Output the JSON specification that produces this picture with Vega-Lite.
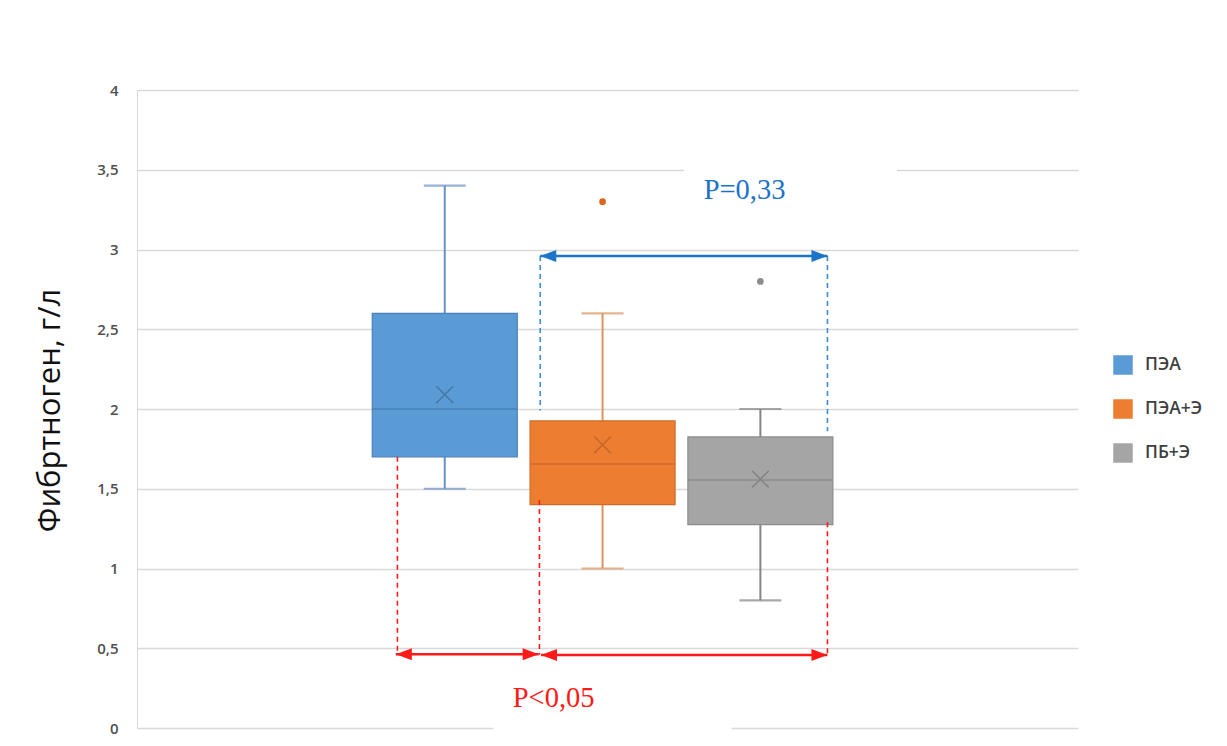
{
  "$schema": "https://vega.github.io/schema/vega-lite/v6.json",
  "width": 941,
  "height": 638,
  "autosize": {"type": "none"},
  "padding": {"left": 137, "top": 90, "right": 149, "bottom": 18},
  "background": "white",
  "config": {
    "view": {"stroke": null},
    "font": "Open Sans",
    "axisY": {
      "grid": true,
      "gridColor": "#D9D9D9",
      "gridWidth": 1.5,
      "domain": true,
      "domainColor": "#D9D9D9",
      "domainWidth": 1,
      "ticks": false,
      "labelPadding": 19,
      "labelFont": "Open Sans",
      "labelFontSize": 15,
      "labelFontWeight": 600,
      "labelColor": "#505050",
      "labelExpr": "replace(format(datum.value, '~g'), '.', ',')",
      "titleFont": "Open Sans",
      "titleFontSize": 31,
      "titleFontWeight": "normal",
      "titleColor": "#111111",
      "titleAngle": 270,
      "titleX": -87,
      "titleY": 320,
      "titleAlign": "center",
      "titleBaseline": "middle"
    }
  },
  "datasets": {
    "boxes": [
      {"group": "ПЭА", "pos": 1, "lo": 1.5, "q1": 1.7, "median": 2.0, "q3": 2.6, "hi": 3.4, "mean": 2.09},
      {"group": "ПЭА+Э", "pos": 2, "lo": 1.0, "q1": 1.4, "median": 1.655, "q3": 1.925, "hi": 2.6, "mean": 1.775},
      {"group": "ПБ+Э", "pos": 3, "lo": 0.8, "q1": 1.275, "median": 1.555, "q3": 1.825, "hi": 2.0, "mean": 1.56}
    ],
    "outliers": [
      {"group": "ПЭА+Э", "pos": 2, "value": 3.3},
      {"group": "ПБ+Э", "pos": 3, "value": 2.8}
    ],
    "dashes": [
      {"kind": "red", "x": 0.70, "y": 1.70, "y2": 0.46},
      {"kind": "red", "x": 1.60, "y": 1.43, "y2": 0.46},
      {"kind": "red", "x": 3.425, "y": 1.29, "y2": 0.46},
      {"kind": "blue", "x": 1.605, "y": 2.96, "y2": 1.99},
      {"kind": "blue", "x": 3.425, "y": 2.96, "y2": 1.86}
    ],
    "arrows": [
      {"kind": "red", "x": 0.69, "x2": 1.595, "y": 0.462},
      {"kind": "red", "x": 1.61, "x2": 3.425, "y": 0.458},
      {"kind": "blue", "x": 1.605, "x2": 3.425, "y": 2.96}
    ],
    "labels": [
      {"kind": "blue", "x": 2.9, "y": 3.37, "text": "P=0,33"},
      {"kind": "red", "x": 1.69, "y": 0.19, "text": "P<0,05"}
    ],
    "masks": [
      {"x": 2.517, "x2": 3.865, "y": 3.1, "y2": 3.65},
      {"x": 1.307, "x2": 2.818, "y": -0.08, "y2": 0.35}
    ]
  },
  "layer": [
    {
      "data": {"name": "masks"},
      "mark": {"type": "rect", "fill": "white", "clip": false},
      "encoding": {
        "x": {"field": "x", "type": "quantitative", "scale": {"domain": [-0.9185, 4.981], "nice": false, "zero": false}, "axis": null},
        "x2": {"field": "x2"},
        "y": {"field": "y", "type": "quantitative", "scale": {"domain": [0, 4], "nice": false, "zero": true}, "axis": {"values": [0, 0.5, 1, 1.5, 2, 2.5, 3, 3.5, 4], "title": "Фибртноген, г/л"}},
        "y2": {"field": "y2"}
      }
    },
    {
      "data": {"name": "boxes"},
      "mark": {"type": "rule", "strokeWidth": 2},
      "encoding": {
        "x": {"field": "pos", "type": "quantitative", "axis": null},
        "y": {"field": "lo", "type": "quantitative"},
        "y2": {"field": "hi"},
        "color": {"field": "group", "type": "nominal", "scale": {"domain": ["ПЭА", "ПЭА+Э", "ПБ+Э"], "range": ["#6892C4", "#DC955F", "#858585"]}, "legend": null}
      }
    },
    {
      "data": {"name": "boxes"},
      "mark": {"type": "tick", "orient": "horizontal", "size": 42, "thickness": 2.2},
      "encoding": {
        "x": {"field": "pos", "type": "quantitative", "axis": null},
        "y": {"field": "lo", "type": "quantitative"},
        "color": {"field": "group", "type": "nominal", "scale": {"domain": ["ПЭА", "ПЭА+Э", "ПБ+Э"], "range": ["#6892C4", "#DC955F", "#858585"]}, "legend": null}
      }
    },
    {
      "data": {"name": "boxes"},
      "mark": {"type": "tick", "orient": "horizontal", "size": 42, "thickness": 2.2},
      "encoding": {
        "x": {"field": "pos", "type": "quantitative", "axis": null},
        "y": {"field": "hi", "type": "quantitative"},
        "color": {"field": "group", "type": "nominal", "scale": {"domain": ["ПЭА", "ПЭА+Э", "ПБ+Э"], "range": ["#6892C4", "#DC955F", "#858585"]}, "legend": null}
      }
    },
    {
      "data": {"name": "boxes"},
      "mark": {"type": "bar", "width": 145, "strokeWidth": 1.2, "opacity": 1},
      "encoding": {
        "x": {"field": "pos", "type": "quantitative", "axis": null},
        "y": {"field": "q1", "type": "quantitative"},
        "y2": {"field": "q3"},
        "fill": {"field": "group", "type": "nominal", "scale": {"domain": ["ПЭА", "ПЭА+Э", "ПБ+Э"], "range": ["#5B9BD5", "#ED7D31", "#A5A5A5"]},
          "legend": {"orient": "none", "legendX": 976, "legendY": 265, "title": null, "symbolType": "square", "symbolSize": 380, "symbolStrokeWidth": 0, "labelFont": "Open Sans", "labelFontSize": 17.5, "labelFontWeight": 600, "labelColor": "#404040", "rowPadding": 24, "labelOffset": 12, "padding": 0}},
        "stroke": {"field": "group", "type": "nominal", "scale": {"domain": ["ПЭА", "ПЭА+Э", "ПБ+Э"], "range": ["#4A80B8", "#CF6A26", "#8C8C8C"]}, "legend": null}
      }
    },
    {
      "data": {"name": "boxes"},
      "mark": {"type": "tick", "orient": "horizontal", "size": 145, "thickness": 1.6},
      "encoding": {
        "x": {"field": "pos", "type": "quantitative", "axis": null},
        "y": {"field": "median", "type": "quantitative"},
        "color": {"field": "group", "type": "nominal", "scale": {"domain": ["ПЭА", "ПЭА+Э", "ПБ+Э"], "range": ["#4676A8", "#C5652A", "#828282"]}, "legend": null}
      }
    },
    {
      "data": {"name": "boxes"},
      "mark": {"type": "point", "shape": "M-1,-1L1,1M1,-1L-1,1", "filled": false, "size": 280, "strokeWidth": 1.5, "opacity": 1},
      "encoding": {
        "x": {"field": "pos", "type": "quantitative", "axis": null},
        "y": {"field": "mean", "type": "quantitative"},
        "color": {"field": "group", "type": "nominal", "scale": {"domain": ["ПЭА", "ПЭА+Э", "ПБ+Э"], "range": ["#4676A8", "#C5652A", "#828282"]}, "legend": null}
      }
    },
    {
      "data": {"name": "outliers"},
      "mark": {"type": "circle", "size": 45, "opacity": 1},
      "encoding": {
        "x": {"field": "pos", "type": "quantitative", "axis": null},
        "y": {"field": "value", "type": "quantitative"},
        "color": {"field": "group", "type": "nominal", "scale": {"domain": ["ПЭА", "ПЭА+Э", "ПБ+Э"], "range": ["#4676A8", "#DA6620", "#8C8C8C"]}, "legend": null}
      }
    },
    {
      "data": {"name": "dashes"},
      "mark": {"type": "rule", "strokeWidth": 1.6, "strokeDash": [5, 4]},
      "encoding": {
        "x": {"field": "x", "type": "quantitative", "axis": null},
        "y": {"field": "y", "type": "quantitative"},
        "y2": {"field": "y2"},
        "color": {"field": "kind", "type": "nominal", "scale": {"domain": ["red", "blue"], "range": ["#FF1A1A", "#3A8DD8"]}, "legend": null}
      }
    },
    {
      "data": {"name": "arrows"},
      "mark": {"type": "rule", "strokeWidth": 2.5},
      "encoding": {
        "x": {"field": "x", "type": "quantitative", "axis": null},
        "x2": {"field": "x2"},
        "y": {"field": "y", "type": "quantitative"},
        "color": {"field": "kind", "type": "nominal", "scale": {"domain": ["red", "blue"], "range": ["#FF1A1A", "#1C74C8"]}, "legend": null}
      }
    },
    {
      "data": {"name": "arrows"},
      "mark": {"type": "point", "shape": "M0,0L2,-0.75L2,0.75Z", "filled": true, "size": 256, "opacity": 1, "strokeWidth": 0},
      "encoding": {
        "x": {"field": "x", "type": "quantitative", "axis": null},
        "y": {"field": "y", "type": "quantitative"},
        "color": {"field": "kind", "type": "nominal", "scale": {"domain": ["red", "blue"], "range": ["#FF1A1A", "#1C74C8"]}, "legend": null}
      }
    },
    {
      "data": {"name": "arrows"},
      "mark": {"type": "point", "shape": "M0,0L-2,-0.75L-2,0.75Z", "filled": true, "size": 256, "opacity": 1, "strokeWidth": 0},
      "encoding": {
        "x": {"field": "x2", "type": "quantitative", "axis": null},
        "y": {"field": "y", "type": "quantitative"},
        "color": {"field": "kind", "type": "nominal", "scale": {"domain": ["red", "blue"], "range": ["#FF1A1A", "#1C74C8"]}, "legend": null}
      }
    },
    {
      "data": {"name": "labels"},
      "mark": {"type": "text", "font": "Liberation Serif", "fontSize": 28.5, "align": "center", "baseline": "middle"},
      "encoding": {
        "x": {"field": "x", "type": "quantitative", "axis": null},
        "y": {"field": "y", "type": "quantitative"},
        "text": {"field": "text"},
        "color": {"field": "kind", "type": "nominal", "scale": {"domain": ["red", "blue"], "range": ["#FF1A1A", "#1C74C8"]}, "legend": null}
      }
    }
  ],
  "resolve": {"scale": {"color": "independent", "fill": "independent", "stroke": "independent"}}
}
